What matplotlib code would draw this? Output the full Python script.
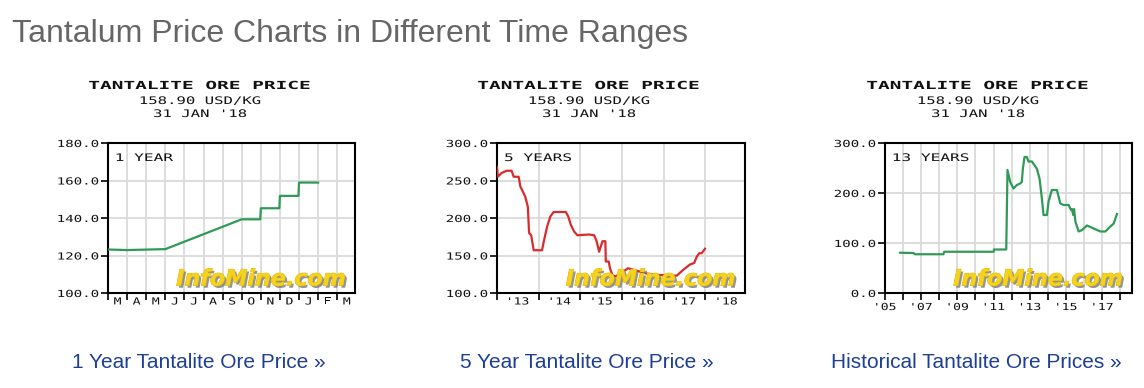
import matplotlib
matplotlib.use('Agg')
import matplotlib.pyplot as plt
import matplotlib.patheffects as pe
from matplotlib.transforms import Affine2D

# ---------------- data ----------------
title = "Tantalum Price Charts in Different Time Ranges"
header_lines = ["TANTALITE ORE PRICE", "158.90 USD/KG", "31 JAN '18"]
link_texts = ["1 Year Tantalite Ore Price »", "5 Year Tantalite Ore Price »",
              "Historical Tantalite Ore Prices »"]
range_labels = ["1 YEAR", "5 YEARS", "13 YEARS"]
watermark = "InfoMine.com"

# 1 year chart: months since 1 Mar 2017
month_labels = ["M", "A", "M", "J", "J", "A", "S", "O", "N", "D", "J", "F", "M"]
one_year_month = [0.0, 1.0, 3.0, 7.0, 7.97, 8.0, 8.97, 9.0, 9.97, 10.0, 11.0]
one_year_price = [123.2, 122.9, 123.4, 139.3, 139.3, 145.2, 145.2, 151.8, 151.8, 158.9, 158.9]
one_year_yticks = [100, 120, 140, 160, 180]

# 5 year chart: decimal years
five_year_labels = ["'13", "'14", "'15", "'16", "'17", "'18"]
five_year_t = [2013.0, 2013.02, 2013.11, 2013.23, 2013.35, 2013.40, 2013.52, 2013.56, 2013.64,
               2013.68, 2013.74, 2013.77, 2013.82, 2013.88, 2014.08, 2014.12, 2014.20, 2014.28,
               2014.36, 2014.65, 2014.71, 2014.77, 2014.85, 2014.93, 2015.21, 2015.33, 2015.39,
               2015.45, 2015.53, 2015.60, 2015.61, 2015.68, 2015.71, 2015.77, 2015.84, 2015.90,
               2016.02, 2016.14, 2016.34, 2016.58, 2016.90, 2017.31, 2017.47, 2017.63, 2017.73,
               2017.79, 2017.85, 2017.91, 2017.99]
five_year_price = [268, 255, 260, 263, 263, 255, 255, 242, 233,
                   228, 215, 180, 177, 157, 157, 168, 188, 202,
                   208, 208, 202, 191, 182, 177, 178, 177, 169,
                   155, 169, 169, 142, 142, 133, 124, 122, 124,
                   128, 133, 130, 126, 124, 123, 131, 138, 140,
                   148, 153, 153, 159]
five_year_yticks = [100, 150, 200, 250, 300]

# 13 year chart: decimal years
hist_labels = ["'05", "", "'07", "", "'09", "", "'11", "", "'13", "", "'15", "", "'17", ""]
hist_t = [2005.83, 2006.57, 2006.66, 2008.23, 2008.27, 2011.0, 2011.03, 2011.70, 2011.77,
          2011.92, 2012.10, 2012.29, 2012.47, 2012.56, 2012.62, 2012.71, 2012.84, 2012.93,
          2013.12, 2013.25, 2013.39, 2013.54, 2013.67, 2013.76, 2013.95, 2014.04, 2014.22,
          2014.50, 2014.69, 2014.87, 2015.15, 2015.28, 2015.33, 2015.40, 2015.45, 2015.52,
          2015.70, 2015.89, 2016.16, 2016.53, 2016.90, 2017.18, 2017.45, 2017.64, 2017.82]
hist_price = [80.5, 80, 77.5, 77.5, 82.5, 82.5, 87, 87, 246,
              222, 209, 216, 219, 222, 249, 272, 272, 263,
              263, 256, 249, 229, 189, 156, 156, 183, 206,
              206, 179, 176, 176, 166, 168, 156, 168, 143,
              123, 126, 135, 129, 123, 123, 133, 139, 158]
hist_yticks = [0, 100, 200, 300]

# ---------------- styling helpers ----------------
W, H = 1144, 388
fig = plt.figure(figsize=(W / 100, H / 100), dpi=100)
fig.patch.set_facecolor('white')
MONO = 'DejaVu Sans Mono'
SANS = 'Liberation Sans'


class Stretch(pe.AbstractPathEffect):
    """Widen glyphs horizontally (pixel-font look)."""
    def __init__(self, sx, anchor='center'):
        super().__init__()
        self.sx = sx
        self.anchor = anchor

    def draw_path(self, renderer, gc, tpath, affine, rgbFace=None):
        try:
            ext = tpath.get_extents(affine)
            if self.anchor == 'left':
                cx = ext.x0
            elif self.anchor == 'right':
                cx = ext.x1
            else:
                cx = 0.5 * (ext.x0 + ext.x1)
            a = affine + Affine2D().translate(-cx, 0).scale(self.sx, 1).translate(cx, 0)
        except Exception:
            a = affine
        renderer.draw_path(gc, tpath, a, rgbFace)


def rect(l, t, r, b):
    return [l / W, 1 - b / H, (r - l) / W, (b - t) / H]


def style_axes(ax, xlim, ylim, yticks, major_x, major_labels, minor_x=None, minor_labels=None):
    ax.set_xlim(*xlim)
    ax.set_ylim(*ylim)
    ax.set_yticks(yticks)
    ax.set_yticklabels([f"{v:.1f}" for v in yticks])
    ax.set_xticks(major_x)
    ax.set_xticklabels(major_labels)
    if minor_x is not None:
        ax.set_xticks(minor_x, minor=True)
        ax.set_xticklabels(minor_labels, minor=True)
    ax.grid(which='major', color='#dadada', lw=1.3, zorder=0)
    ax.set_axisbelow(True)
    ax.tick_params(which='major', direction='out', length=5, width=1.2, color='black', pad=1.5)
    ax.tick_params(which='minor', length=0, pad=2.5)
    for sp in ax.spines.values():
        sp.set_linewidth(1.5)
        sp.set_color('black')
    for lab in ax.get_yticklabels():
        lab.set_fontfamily(MONO)
        lab.set_fontsize(7)
        lab.set_color('#111111')
        lab.set_path_effects([Stretch(1.45, 'right')])
    for lab in ax.get_xticklabels() + ax.get_xticklabels(minor=True):
        lab.set_fontfamily(MONO)
        lab.set_fontsize(7)
        lab.set_color('#111111')
        lab.set_path_effects([Stretch(1.35, 'center')])


def add_watermark(ax):
    ax.text(0.62, 0.09, watermark, transform=ax.transAxes, ha='center', va='center',
            fontsize=16, fontweight='bold', fontstyle='italic', family='DejaVu Sans',
            color='#f5d21e', zorder=6,
            path_effects=[pe.withSimplePatchShadow(offset=(1.6, -1.6), shadow_rgbFace='#7a7a7a', alpha=0.8),
                          pe.Stroke(linewidth=0.6, foreground='#e0b400'), pe.Normal()])


def add_range_label(ax, text):
    ax.text(0.03, 0.9, text, transform=ax.transAxes, ha='left', va='center',
            family=MONO, fontsize=7.5, color='#111111', zorder=5,
            path_effects=[Stretch(1.55, 'left')])


def add_header(cx):
    ys = [86, 101, 114]
    for i, (line, y) in enumerate(zip(header_lines, ys)):
        if i == 0:
            fig.text(cx / W, 1 - y / H, line, ha='center', va='center', family=MONO,
                     fontsize=8, fontweight='bold', color='#111111',
                     path_effects=[Stretch(1.75, 'center')])
        else:
            fig.text(cx / W, 1 - y / H, line, ha='center', va='center', family=MONO,
                     fontsize=7.5, color='#111111',
                     path_effects=[Stretch(1.5, 'center')])


# ---------------- title ----------------
fig.text(12 / W, 1 - 42 / H, title, ha='left', va='baseline', family=SANS,
         fontsize=23, color='#666666')

# ---------------- chart 1 ----------------
ax1 = fig.add_axes(rect(108, 143, 355, 293))
ax1.plot(one_year_month, one_year_price, color='#2f9a55', lw=1.6, zorder=3)
style_axes(ax1, (0, 12.93), (100, 180), one_year_yticks,
           list(range(0, 13)), [''] * 13,
           [m + 0.5 for m in range(13)], month_labels)
add_range_label(ax1, range_labels[0])
add_watermark(ax1)
add_header(200)

# ---------------- chart 2 ----------------
ax2 = fig.add_axes(rect(497, 143, 745, 293))
ax2.plot(five_year_t, five_year_price, color='#d92b2b', lw=1.6, zorder=3)
style_axes(ax2, (2013.0, 2018.95), (100, 300), five_year_yticks,
           list(range(2013, 2019)), [''] * 6,
           [y + 0.5 for y in range(2013, 2019)], five_year_labels)
add_range_label(ax2, range_labels[1])
add_watermark(ax2)
add_header(589)

# ---------------- chart 3 ----------------
ax3 = fig.add_axes(rect(885, 143, 1132, 293))
ax3.plot(hist_t, hist_price, color='#2f9a55', lw=1.6, zorder=3)
style_axes(ax3, (2005.0, 2018.65), (0, 300), hist_yticks,
           list(range(2005, 2019)), hist_labels)
add_range_label(ax3, range_labels[2])
add_watermark(ax3)
add_header(978)

# ---------------- links ----------------
for cx, txt in zip([199, 587, 976], link_texts):
    fig.text(cx / W, 1 - 362 / H, txt, ha='center', va='center', family=SANS,
             fontsize=15, color='#1d3f95')

fig.savefig('out.png', dpi=100, facecolor='white')
